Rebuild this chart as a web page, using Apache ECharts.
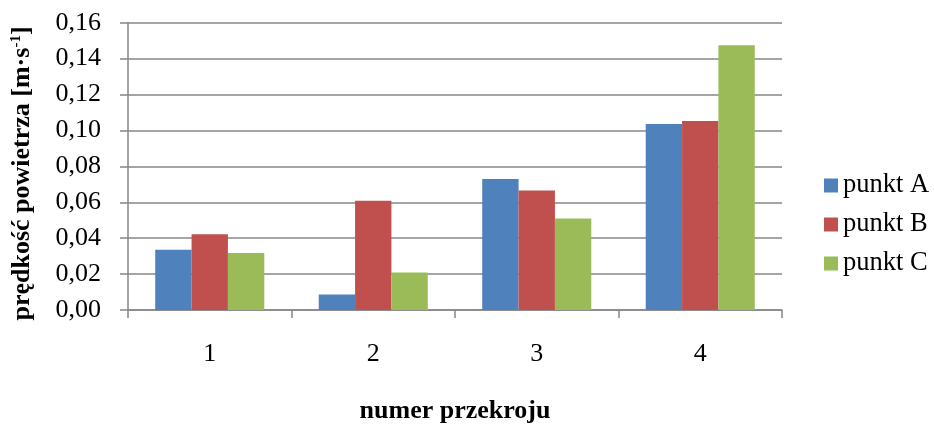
<!DOCTYPE html>
<html>
<head>
<meta charset="utf-8">
<script src="https://cdn.jsdelivr.net/npm/echarts@6/dist/echarts.min.js"></script>
<style>html,body{margin:0;padding:0;background:#fff}#c{width:934px;height:429px}</style>
</head>
<body>
<div id="c"></div>
<script>
var categories = ['1', '2', '3', '4'];
var punktA = [0.0336, 0.0086, 0.0729, 0.1036];
var punktB = [0.0422, 0.0609, 0.0665, 0.1052];
var punktC = [0.0317, 0.0209, 0.0509, 0.1474];
var seriesNames = ['punkt A', 'punkt B', 'punkt C'];
var colors = ['#4F81BD', '#C0504D', '#9BBB59'];
var yTitle = 'prędkość powietrza [m·s{sup|-1}]';
var xTitle = 'numer przekroju';

var font = '"Liberation Serif", "Times New Roman", serif';
var chart = echarts.init(document.getElementById('c'));
var dataSets = [punktA, punktB, punktC];
chart.setOption({
  animation: false,
  textStyle: { fontFamily: font },
  grid: { left: 128, right: 152, top: 22.7, bottom: 115.7, containLabel: false },
  legend: {
    orient: 'vertical', left: 819, top: 167, itemWidth: 14, itemHeight: 14, itemGap: 12,
    icon: 'rect',
    textStyle: { fontFamily: font, fontSize: 26.5, color: '#000' },
    data: seriesNames
  },
  graphic: [{
    type: 'text', x: 22, y: 173.5, rotation: Math.PI / 2,
    style: {
      text: yTitle, font: 'bold 26px ' + font, fill: '#000', align: 'center', verticalAlign: 'middle',
      rich: { sup: { font: 'bold 15px ' + font, fill: '#000', verticalAlign: 'top', padding: [0, 0, 10, 0] } }
    }
  }],
  xAxis: {
    type: 'category', data: categories,
    axisLine: { lineStyle: { color: '#878787', width: 1.5 } },
    axisTick: { show: true, length: 8, lineStyle: { color: '#878787', width: 1.5 } },
    axisLabel: { fontFamily: font, fontSize: 26, color: '#000', margin: 31 },
    name: xTitle, nameLocation: 'middle', nameGap: 88,
    nameTextStyle: { fontFamily: font, fontSize: 26, fontWeight: 'bold', color: '#000' }
  },
  yAxis: {
    type: 'value', min: 0, max: 0.16, interval: 0.02,
    axisLine: { show: true, lineStyle: { color: '#878787', width: 1.5 } },
    axisTick: { show: true, length: 8, lineStyle: { color: '#878787', width: 1.5 } },
    splitLine: { lineStyle: { color: '#878787', width: 1.5 } },
    axisLabel: { fontFamily: font, fontSize: 26, color: '#000', margin: 27,
      formatter: function (v) { return v.toFixed(2).replace('.', ','); } }
  },
  series: dataSets.map(function (d, i) {
    return {
      name: seriesNames[i], type: 'bar', data: d,
      barGap: '0%', barCategoryGap: '33.3%',
      itemStyle: { color: colors[i] }
    };
  })
});
</script>
</body>
</html>
